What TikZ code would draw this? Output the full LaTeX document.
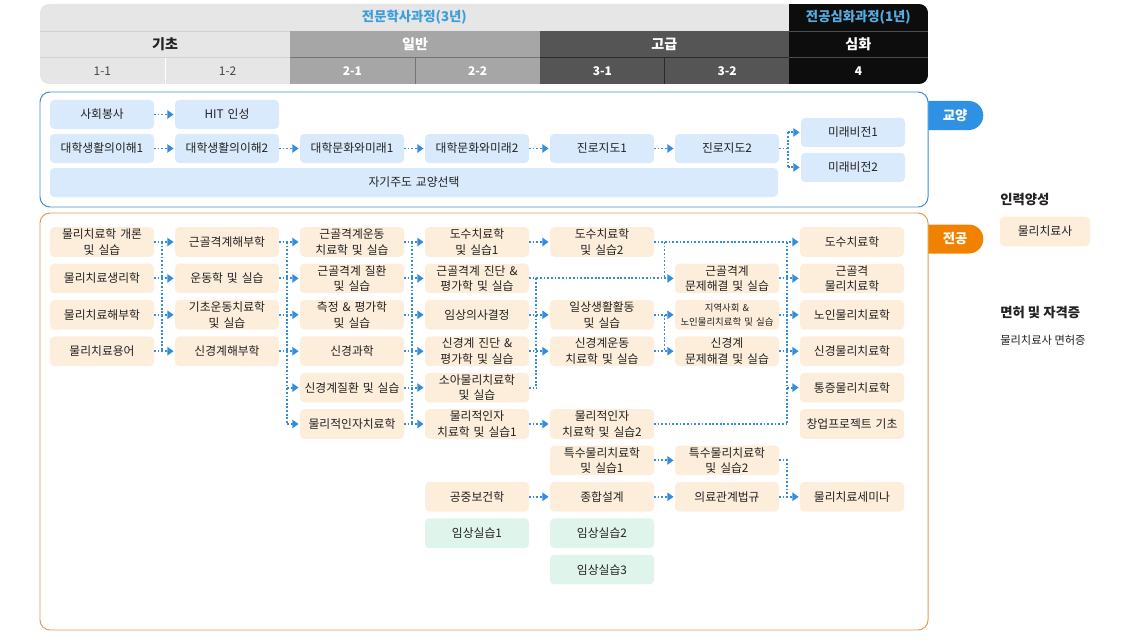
\documentclass[tikz,border=0pt]{standalone}
\usepackage{fontspec}
\setmainfont{Noto Sans CJK KR}
\usepackage{tikz}
\usetikzlibrary{
  shapes.misc,
  arrows.meta,
  positioning, calc
}
\definecolor{txtdark}{RGB}{34,34,34}
\definecolor{termgray}{RGB}{70,70,70}
\definecolor{hdlight}{RGB}{230,230,230}
\definecolor{hdmid}{RGB}{166,166,166}
\definecolor{hddark}{RGB}{85,85,85}
\definecolor{hdblack}{RGB}{13,13,13}
\definecolor{hdblue}{RGB}{59,158,218}
\definecolor{boxblue}{RGB}{217,234,252}
\definecolor{boxcream}{RGB}{253,238,219}
\definecolor{boxmint}{RGB}{223,244,234}
\definecolor{arrblue}{RGB}{52,140,222}
\definecolor{gyline}{RGB}{64,140,206}
\definecolor{jgline}{RGB}{222,158,82}
\definecolor{tabblue}{RGB}{46,145,228}
\definecolor{taborange}{RGB}{240,130,0}
\tikzset{
  basebox/.style={rectangle,rounded corners=3pt,align=center,text width=2.58cm,inner xsep=0.01cm,inner ysep=0pt,outer sep=0pt,minimum height=0.74cm,font=\fontsize{8.4}{11}\selectfont,text=txtdark},
  gynode/.style={basebox,fill=boxblue,minimum height=0.725cm},
  jgnode/.style={basebox,fill=boxcream},
  clinode/.style={basebox,fill=boxmint},
  tabnode/.style={rounded rectangle,rounded rectangle left arc=none,minimum width=1.375cm,minimum height=0.725cm,inner sep=0pt,text=white,font=\fontsize{9.5}{11}\selectfont\bfseries,anchor=west},
  hdtitle/.style={inner sep=0pt,text=hdblue,font=\fontsize{9.5}{11}\selectfont\bfseries},
  hdstage/.style={inner sep=0pt,text=white,font=\fontsize{10}{12}\selectfont\bfseries},
  hdterm/.style={inner sep=0pt,text=white,font=\fontsize{8.5}{10}\selectfont\bfseries},
  sidehead/.style={inner sep=0pt,anchor=west,text=txtdark,font=\fontsize{9.5}{11}\selectfont\bfseries},
  sidetext/.style={inner sep=0pt,anchor=west,text=txtdark,font=\fontsize{8}{10}\selectfont},
  dotln/.style={line width=1.3pt,dash pattern=on 1.3pt off 1.3pt,color=arrblue},
  dotarr/.style={dotln,-{Triangle[length=4.5pt,width=6pt]},shorten >=1pt}
}

\begin{document}
\begin{tikzpicture}[node distance=0.17cm and 0.525cm]
  \useasboundingbox (0,0) rectangle (28.55,-16.05);

  % header table
  \begin{scope}
    \clip[rounded corners=0.22cm] (1,-0.1) rectangle (23.2,-2.1);
    \fill[hdlight] (1,-0.1) rectangle (19.725,-0.775) (1,-0.775) rectangle (7.25,-2.1);
    \fill[hdmid] (7.25,-0.775) rectangle (13.5,-2.1);
    \fill[hddark] (13.5,-0.775) rectangle (19.725,-2.1);
    \fill[hdblack] (19.725,-0.1) rectangle (23.2,-2.1);
    \draw[line width=0.6pt,color=black!18] (1,-0.775) -- (7.25,-0.775) (1,-1.44) -- (7.25,-1.44);
    \draw[line width=0.6pt,color=white] (4.125,-1.44) -- (4.125,-2.1);
    \draw[line width=0.6pt,color=hdmid!70!black] (7.25,-1.44) -- (13.5,-1.44) (10.375,-1.44) -- (10.375,-2.1);
    \draw[line width=0.6pt,color=hddark!50!black] (13.5,-1.44) -- (19.725,-1.44) (16.6,-1.44) -- (16.6,-2.1);
    \draw[line width=0.6pt,color=black!70] (19.725,-0.775) -- (23.2,-0.775) (19.725,-1.44) -- (23.2,-1.44);
  \end{scope}
  \node[hdtitle] (dip) at (10.36,-0.44) {전문학사과정(3년)};
  \node[hdtitle,text=hdblue!85!white] (adv) at (21.46,-0.44) {전공심화과정(1년)};
  \node[hdstage,text=txtdark] (st1) at (4.125,-1.11) {기초};
  \node[hdstage] (st2) at (10.375,-1.11) {일반};
  \node[hdstage] (st3) at (16.61,-1.11) {고급};
  \node[hdstage] (st4) at (21.46,-1.11) {심화};
  \node[hdterm,font=\fontsize{8.5}{10}\selectfont,text=termgray] (t11) at (2.56,-1.77) {1-1};
  \node[hdterm,font=\fontsize{8.5}{10}\selectfont,text=termgray] (t12) at (5.69,-1.77) {1-2};
  \node[hdterm] (t21) at (8.81,-1.77) {2-1};
  \node[hdterm] (t22) at (11.94,-1.77) {2-2};
  \node[hdterm] (t31) at (15.06,-1.77) {3-1};
  \node[hdterm] (t32) at (18.18,-1.77) {3-2};
  \node[hdterm] (t4) at (21.46,-1.77) {4};

  % 교양
  \draw[gyline,line width=0.7pt,rounded corners=0.25cm] (1,-2.3) rectangle (23.2,-5.175);
  \node[tabnode,fill=tabblue] (gytab) at (23.2,-2.8875) {교양};
  \node[gynode] (sv) at (2.55,-2.8625) {사회봉사};
  \node[gynode,right=of sv] (hit) {HIT 인성};
  \node[gynode,below=0.125cm of sv] (ul1) {대학생활의이해1};
  \node[gynode,right=of ul1] (ul2) {대학생활의이해2};
  \node[gynode,right=of ul2] (uc1) {대학문화와미래1};
  \node[gynode,right=of uc1] (uc2) {대학문화와미래2};
  \node[gynode,right=of uc2] (cr1) {진로지도1};
  \node[gynode,right=of cr1] (cr2) {진로지도2};
  \node[gynode,text width=18.18cm,below=0.125cm of ul1.south west,anchor=north west] (self) {자기주도 교양선택};
  \node[gynode,above right=0.04cm and 0.55cm of cr2.east] (fv1) {미래비전1};
  \node[gynode,below=0.15cm of fv1] (fv2) {미래비전2};

  % 전공
  \draw[jgline,line width=0.7pt,rounded corners=0.25cm] (1,-5.325) rectangle (23.2,-15.75);
  \node[tabnode,fill=taborange] (jgtab) at (23.2,-5.975) {전공};
  \node[jgnode] (c11) at (2.55,-6.05) {물리치료학 개론\\및 실습};
  \node[jgnode,below=of c11] (c12) {물리치료생리학};
  \node[jgnode,below=of c12] (c13) {물리치료해부학};
  \node[jgnode,below=of c13] (c14) {물리치료용어};
  \node[jgnode,right=of c11] (c21) {근골격계해부학};
  \node[jgnode,right=of c12] (c22) {운동학 및 실습};
  \node[jgnode,right=of c13] (c23) {기초운동치료학\\및 실습};
  \node[jgnode,right=of c14] (c24) {신경계해부학};
  \node[jgnode,right=of c21] (c31) {근골격계운동\\치료학 및 실습};
  \node[jgnode,right=of c22] (c32) {근골격계 질환\\및 실습};
  \node[jgnode,right=of c23] (c33) {측정 \& 평가학\\및 실습};
  \node[jgnode,right=of c24] (c34) {신경과학};
  \node[jgnode,below=of c34] (c35) {신경계질환 및 실습};
  \node[jgnode,below=of c35] (c36) {물리적인자치료학};
  \node[jgnode,right=of c31] (c41) {도수치료학\\및 실습1};
  \node[jgnode,right=of c32] (c42) {근골격계 진단 \&\\평가학 및 실습};
  \node[jgnode,right=of c33] (c43) {임상의사결정};
  \node[jgnode,right=of c34] (c44) {신경계 진단 \&\\평가학 및 실습};
  \node[jgnode,right=of c35] (c45) {소아물리치료학\\및 실습};
  \node[jgnode,right=of c36] (c46) {물리적인자\\치료학 및 실습1};
  \node[jgnode,right=of c41] (c51) {도수치료학\\및 실습2};
  \node[jgnode,right=of c43] (c53) {일상생활활동\\및 실습};
  \node[jgnode,right=of c44] (c54) {신경계운동\\치료학 및 실습};
  \node[jgnode,right=of c46] (c56) {물리적인자\\치료학 및 실습2};
  \node[jgnode,below=of c56] (c57) {특수물리치료학\\및 실습1};
  \node[jgnode,below=of c57] (c58) {종합설계};
  \node[jgnode,left=of c58] (c48) {공중보건학};
  \node[clinode,below=of c58] (clin2) {임상실습2};
  \node[clinode,below=of clin2] (clin3) {임상실습3};
  \node[clinode,left=of clin2] (clin1) {임상실습1};
  \node[jgnode,right=of c53,font=\fontsize{6.7}{10}\selectfont] (c63) {지역사회 \&\\노인물리치료학 및 실습};
  \node[jgnode,right=of c54] (c64) {신경계\\문제해결 및 실습};
  \node[jgnode,above=of c63] (c62) {근골격계\\문제해결 및 실습};
  \node[jgnode,right=of c57] (c67) {특수물리치료학\\및 실습2};
  \node[jgnode,right=of c58] (c68) {의료관계법규};
  \node[jgnode,right=of c62] (c72) {근골격\\물리치료학};
  \node[jgnode,above=of c72] (c71) {도수치료학};
  \node[jgnode,right=of c63] (c73) {노인물리치료학};
  \node[jgnode,right=of c64] (c74) {신경물리치료학};
  \node[jgnode,below=of c74] (c75) {통증물리치료학};
  \node[jgnode,below=of c75] (c76) {창업프로젝트 기초};
  \node[jgnode,right=of c68] (c78) {물리치료세미나};

  % side notes
  \node[sidehead] (hr) at (25,-5.0) {인력양성};
  \node[jgnode,text width=2.23cm] (pt) at (26.125,-5.7875) {물리치료사};
  \node[sidehead] (lic) at (25,-7.825) {면허 및 자격증};
  \node[sidetext] (licn) at (25,-8.5) {물리치료사 면허증};

  % bus lines
  \coordinate (bfv) at ($(cr2.east)!.4!(fv1.west)$);
  \coordinate (b12) at ($(c11.east)!.4!(c21.west)$);
  \coordinate (b23) at ($(c21.east)!.4!(c31.west)$);
  \coordinate (b34) at ($(c31.east)!.4!(c41.west)$);
  \coordinate (b45) at ($(c41.east)!.35!(c51.west)$);
  \coordinate (b56) at ($(c53.east)!.5!(c63.west)$);
  \coordinate (b67) at ($(c62.east)!.4!(c72.west)$);

  \draw[dotarr] (sv) -- (hit);
  \draw[dotarr] (ul1) -- (ul2); \draw[dotarr] (ul2) -- (uc1);
  \draw[dotarr] (uc1) -- (uc2); \draw[dotarr] (uc2) -- (cr1);
  \draw[dotarr] (cr1) -- (cr2);
  \draw[dotln] (cr2.east) -- (bfv |- cr2.east);
  \draw[dotln] (bfv |- fv1.west) -- (bfv |- fv2.west);
  \draw[dotarr] (bfv |- fv1.west) -- (fv1); \draw[dotarr] (bfv |- fv2.west) -- (fv2);

  \draw[dotarr] (c11) -- (c21); \draw[dotarr] (c12) -- (c22);
  \draw[dotarr] (c13) -- (c23); \draw[dotarr] (c14) -- (c24);
  \draw[dotln] (b12 |- c11) -- (b12 |- c14);

  \draw[dotarr] (c21) -- (c31); \draw[dotarr] (c22) -- (c32);
  \draw[dotarr] (c23) -- (c33); \draw[dotarr] (c24) -- (c34);
  \draw[dotarr] (b23 |- c35) -- (c35); \draw[dotarr] (b23 |- c36) -- (c36);
  \draw[dotln] (b23 |- c31) -- (b23 |- c36);

  \draw[dotarr] (c31) -- (c41); \draw[dotarr] (c32) -- (c42);
  \draw[dotarr] (c33) -- (c43); \draw[dotarr] (c34) -- (c44);
  \draw[dotarr] (c35) -- (c45); \draw[dotarr] (c36) -- (c46);
  \draw[dotln] (b34 |- c31) -- (b34 |- c36);

  \draw[dotarr] (c41) -- (c51); \draw[dotarr] (c42) -- (c62);
  \draw[dotarr] (c43) -- (c53); \draw[dotarr] (c44) -- (c54);
  \draw[dotln] (c45.east) -- (b45 |- c45);
  \draw[dotln] (b45 |- c42) -- (b45 |- c45);
  \draw[dotarr] (c46) -- (c56);

  \draw[dotarr] (c51) -- (c71);
  \draw[dotln] (b56 |- c51) -- (b56 |- c62);
  \draw[dotarr] (c53) -- (c63); \draw[dotarr] (c54) -- (c64);
  \draw[dotln] (b56 |- c53) -- (b56 |- c54);

  \draw[dotarr] (c62) -- (c72); \draw[dotarr] (c63) -- (c73);
  \draw[dotarr] (c64) -- (c74); \draw[dotarr] (b67 |- c75) -- (c75);
  \draw[dotln] (c56.east) -- (b67 |- c56);
  \draw[dotln] (b67 |- c71) -- (b67 |- c76);

  \draw[dotarr] (c57) -- (c67);
  \draw[dotln] (c67.east) -- (b67 |- c67) -- (b67 |- c78);
  \draw[dotarr] (c48) -- (c58); \draw[dotarr] (c58) -- (c68);
  \draw[dotarr] (c68) -- (c78);
\end{tikzpicture}
\end{document}
